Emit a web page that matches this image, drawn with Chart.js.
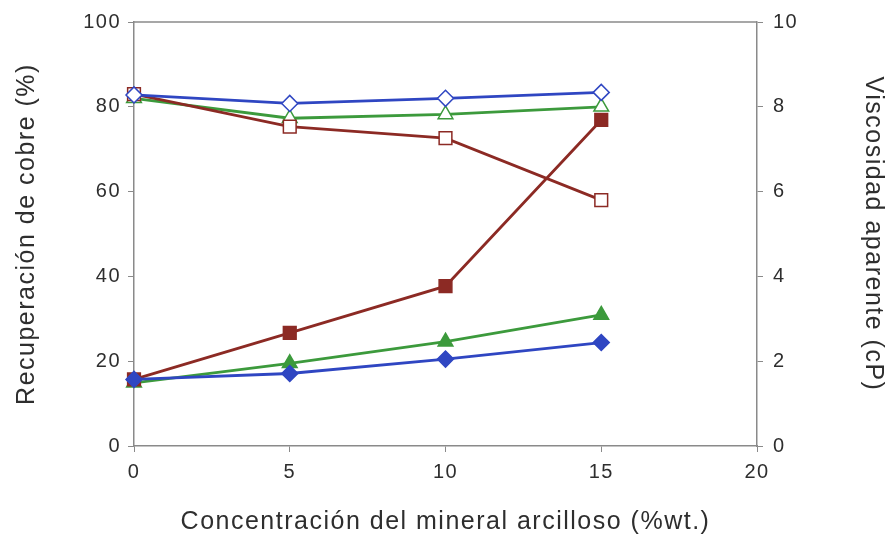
<!DOCTYPE html>
<html>
<head>
<meta charset="utf-8">
<script src="https://cdn.jsdelivr.net/npm/chart.js@4"></script>
<style>
  html, body { margin:0; padding:0; background:#fff; }
  #wrap { width:888px; height:537px; }
</style>
</head>
<body>
<div id="wrap"><canvas id="chart"></canvas></div>
<script>
// Recuperacion de cobre vs viscosidad aparente

const conc = [0, 5, 10, 15] ;

// recuperacion de cobre (%) - open markers, left axis
const recBlue  = [82.8, 80.8, 82.0, 83.4] ;
const recGreen = [82.0, 77.3, 78.2, 80.0] ;
const recRed   = [83.0, 75.3, 72.6, 58.0] ;

// viscosidad aparente (cP) - filled markers, right axis
const viscRed   = [1.57, 2.67, 3.77, 7.69] ;
const viscGreen = [1.49, 1.95, 2.46, 3.09] ;
const viscBlue  = [1.57, 1.71, 2.05, 2.44] ;

const xTicks = [0, 5, 10, 15, 20] ;

const BLUE = '#2f46c2' ;
const GREEN = '#3c9a3c' ;
const RED = '#8c2a24' ;
const AXIS = '#8a8a8a' ;
const TXT = '#2e2e2e' ;

function pts(ys){
    return ys.map((y,i)=>({x: conc[i], y: y})) ;
}

function ds(label, ys, color, style, filled, axis, size){
    return {
        label: label,
        data: pts(ys),
        yAxisID: axis,
        borderColor: color,
        backgroundColor: filled ? color : '#ffffff',
        pointBorderColor: color,
        pointBackgroundColor: filled ? color : '#ffffff',
        pointStyle: style,
        pointRadius: size,
        pointBorderWidth: 1.5,
        borderWidth: 2.8,
        showLine: true,
        tension: 0,
        clip: false,
    } ;
}

// first one ends up on top
const datasets = [
    ds('Viscosidad azul', viscBlue, BLUE, 'rectRot', true, 'y2', 8),
    ds('Recuperación azul', recBlue, BLUE, 'rectRot', false, 'y', 8),
    ds('Viscosidad rojo', viscRed, RED, 'rect', true, 'y2', 9),
    ds('Recuperación rojo', recRed, RED, 'rect', false, 'y', 9),
    ds('Viscosidad verde', viscGreen, GREEN, 'triangle', true, 'y2', 8.5),
    ds('Recuperación verde', recGreen, GREEN, 'triangle', false, 'y', 8.5),
] ;

// wider text like the original + top border of plot area
const SPACING = '1.5px' ;
const extras = {
    id: 'extras',
    beforeUpdate(chart){ chart.ctx.letterSpacing = SPACING ; },
    beforeDraw(chart){ chart.ctx.letterSpacing = SPACING ; },
    beforeDatasetsDraw(chart){
        const a = chart.chartArea ;
        const c = chart.ctx ;
        c.save() ;
        c.strokeStyle = AXIS ;
        c.lineWidth = 1.5 ;
        c.beginPath() ;
        c.moveTo(a.left, a.top) ;
        c.lineTo(a.right, a.top) ;
        c.stroke() ;
        c.restore() ;
    }
} ;

const tickFont = { family: 'Arial, "Liberation Sans", sans-serif', size: 20 } ;
const titleFont = { family: 'Arial, "Liberation Sans", sans-serif', size: 25 } ;

new Chart(document.getElementById('chart').getContext('2d'), {
    type: 'scatter',
    data: { datasets: datasets },
    plugins: [extras],
    options: {
        responsive: true,
        maintainAspectRatio: false,
        animation: false,
        layout: { padding: { top: 22, left: 0, right: 0, bottom: 0 } },
        plugins: {
            legend: { display: false },
            tooltip: { enabled: false },
        },
        scales: {
            x: {
                type: 'linear',
                min: 0, max: 20,
                afterBuildTicks: (s) => { s.ticks = xTicks.map(v => ({value: v})) ; },
                grid: { drawOnChartArea: false, color: AXIS, tickLength: 6 },
                border: { color: AXIS, width: 1.5 },
                ticks: { color: TXT, font: tickFont, padding: 8 },
                title: { display: true, text: 'Concentración del mineral arcilloso (%wt.)',
                         color: TXT, font: titleFont, padding: { top: 10, bottom: 0 } },
                afterFit: (s) => { s.height = 91 ; },
            },
            y: {
                position: 'left',
                min: 0, max: 100,
                grid: { drawOnChartArea: false, color: AXIS, tickLength: 6 },
                border: { color: AXIS, width: 1.5 },
                ticks: { stepSize: 20, color: TXT, font: tickFont, padding: 7 },
                title: { display: true, text: 'Recuperación de cobre (%)',
                         color: TXT, font: titleFont, padding: { top: 12, bottom: 10 } },
                afterFit: (s) => { s.width = 134 ; },
            },
            y2: {
                position: 'right',
                min: 0, max: 10,
                grid: { drawOnChartArea: false, color: AXIS, tickLength: 6 },
                border: { color: AXIS, width: 1.5 },
                ticks: { stepSize: 2, color: TXT, font: tickFont, padding: 10 },
                title: { display: true, text: 'Viscosidad aparente (cP)',
                         color: TXT, font: titleFont, padding: { top: 0, bottom: 10 } },
                afterFit: (s) => { s.width = 131 ; },
            },
        },
    },
}) ;
</script>
</body>
</html>
